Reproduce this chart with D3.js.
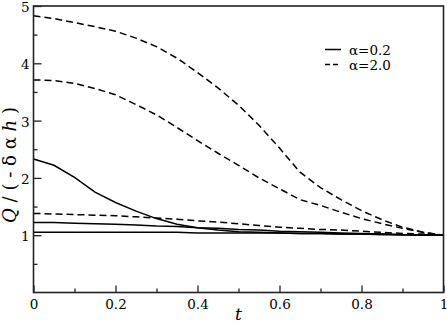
<!DOCTYPE html>
<html>
<head>
<meta charset="utf-8">
<script src="https://cdn.jsdelivr.net/npm/d3@7"></script>
<style>
  body { margin: 0; background: #fff; }
</style>
</head>
<body>
<script>
var tValues = [0, 0.05, 0.1, 0.15, 0.2, 0.25, 0.3, 0.35, 0.4, 0.45, 0.5,
               0.55, 0.6, 0.65, 0.7, 0.75, 0.8, 0.85, 0.9, 0.95, 1];

// alpha = 0.2 (solid)
var solidA = [2.33, 2.22, 2.01, 1.75, 1.57, 1.42, 1.29, 1.19, 1.13, 1.09, 1.06,
              1.05, 1.04, 1.03, 1.03, 1.02, 1.02, 1.01, 1.01, 1.00, 1.00];
var solidB = [1.22, 1.22, 1.21, 1.20, 1.19, 1.18, 1.16, 1.15, 1.13, 1.12, 1.10,
              1.09, 1.07, 1.06, 1.05, 1.04, 1.03, 1.02, 1.01, 1.01, 1.00];
var solidC = [1.05, 1.05, 1.05, 1.05, 1.05, 1.05, 1.05, 1.05, 1.04, 1.04, 1.04,
              1.04, 1.04, 1.03, 1.03, 1.02, 1.02, 1.02, 1.01, 1.01, 1.00];

// alpha = 2.0 (dashed)
var dashA = [4.83, 4.78, 4.71, 4.64, 4.56, 4.44, 4.29, 4.09, 3.84, 3.57, 3.27,
             2.92, 2.52, 2.10, 1.83, 1.62, 1.43, 1.27, 1.14, 1.05, 1.00];
var dashB = [3.71, 3.70, 3.65, 3.56, 3.45, 3.28, 3.10, 2.88, 2.65, 2.43, 2.22,
             2.00, 1.81, 1.62, 1.52, 1.40, 1.29, 1.20, 1.12, 1.05, 1.00];
var dashC = [1.38, 1.37, 1.36, 1.35, 1.34, 1.32, 1.30, 1.28, 1.25, 1.23, 1.20,
             1.17, 1.14, 1.12, 1.10, 1.09, 1.07, 1.05, 1.03, 1.02, 1.00];

var xTicks = [0, 0.2, 0.4, 0.6, 0.8, 1];
var yTicks = [1, 2, 3, 4, 5];
var legendLabels = ["\u03b1=0.2", "\u03b1=2.0"];

var serif = "DejaVu Serif";

var svg = d3.select("body").append("svg").attr("width", 447).attr("height", 325)
        .attr("font-family", serif),
    margin = {top: 6, right: 3.5, bottom: 32.5, left: 33.5},
    width = +svg.attr("width") - margin.left - margin.right,
    height = +svg.attr("height") - margin.top - margin.bottom;

var x = d3.scaleLinear().domain([0, 1]).range([0, width]);
var y = d3.scaleLinear().domain([0, 5]).range([height, 0]);

var g = svg.append("g")
    .attr("transform", "translate(" + margin.left + "," + margin.top + ")");

// minor ticks
g.append("g")
    .attr("transform", "translate(0," + height + ")")
    .call(d3.axisTop(x).tickValues(d3.range(0.1, 1, 0.2)).tickSize(4).tickFormat(""))
    .call(function (a) { a.select(".domain").remove(); });
g.append("g")
    .call(d3.axisRight(y).tickValues(d3.range(0.5, 5, 1)).tickSize(4).tickFormat(""))
    .call(function (a) { a.select(".domain").remove(); });

// major ticks
var xAxis = g.append("g")
    .attr("transform", "translate(0," + height + ")")
    .call(d3.axisTop(x).tickValues(xTicks).tickSize(7).tickFormat(""))
    .attr("font-family", serif);
xAxis.select(".domain").remove();
xAxis.selectAll(".tick").append("text")
    .attr("y", 16.5)
    .attr("text-anchor", "middle")
    .attr("font-size", 13.5)
    .attr("fill", "#000")
    .text(function (d) { return d3.format("")(d); });

var yAxis = g.append("g")
    .call(d3.axisRight(y).tickValues(yTicks).tickSize(8).tickFormat(""))
    .attr("font-family", serif);
yAxis.select(".domain").remove();
yAxis.selectAll(".tick").append("text")
    .attr("x", -4)
    .attr("dy", "0.42em")
    .attr("text-anchor", "end")
    .attr("font-size", 13.5)
    .attr("fill", "#000")
    .text(function (d) { return d; });

g.selectAll(".tick line").attr("stroke", "#222").attr("stroke-width", 1.3);

var line = d3.line()
    .x(function (d, i) { return x(tValues[i]); })
    .y(function (d) { return y(d); });

[solidA, solidB, solidC].forEach(function (s) {
    g.append("path").attr("d", line(s))
        .attr("fill", "none").attr("stroke", "#000").attr("stroke-width", 1.5);
});
[dashA, dashB, dashC].forEach(function (s) {
    g.append("path").attr("d", line(s))
        .attr("fill", "none").attr("stroke", "#000").attr("stroke-width", 1.5)
        .attr("stroke-dasharray", "7,4");
});

// frame
g.append("rect")
    .attr("width", width).attr("height", height)
    .attr("fill", "none").attr("stroke", "#222").attr("stroke-width", 1.6);

// legend
var legend = g.selectAll(".leg")
    .data(legendLabels)
    .enter().append("g")
    .attr("class", "leg")
    .attr("transform", function (d, i) { return "translate(" + (325 - margin.left) + "," + (49.5 - margin.top + i * 15) + ")"; });
legend.append("line")
    .attr("x1", 0).attr("x2", 16)
    .attr("stroke", "#000").attr("stroke-width", 1.5)
    .attr("stroke-dasharray", function (d, i) { return i ? "5,3" : null; });
legend.append("text")
    .attr("x", 24).attr("y", 5)
    .attr("font-size", 13.5)
    .text(function (d) { return d; });

// axis titles
svg.append("text")
    .attr("x", margin.left + width / 2).attr("y", 320)
    .attr("text-anchor", "middle")
    .attr("font-size", 17).attr("font-style", "italic")
    .text("t");

var yl = svg.append("text")
    .attr("transform", "translate(16,165) rotate(-90)")
    .attr("text-anchor", "middle")
    .attr("font-size", 18)
    .attr("textLength", 116)
    .attr("lengthAdjust", "spacing");
yl.append("tspan").attr("font-style", "italic").text("Q");
yl.append("tspan").text("/(-\u03b4\u03b1");
yl.append("tspan").attr("font-style", "italic").text("h");
yl.append("tspan").text(")");
</script>
</body>
</html>
